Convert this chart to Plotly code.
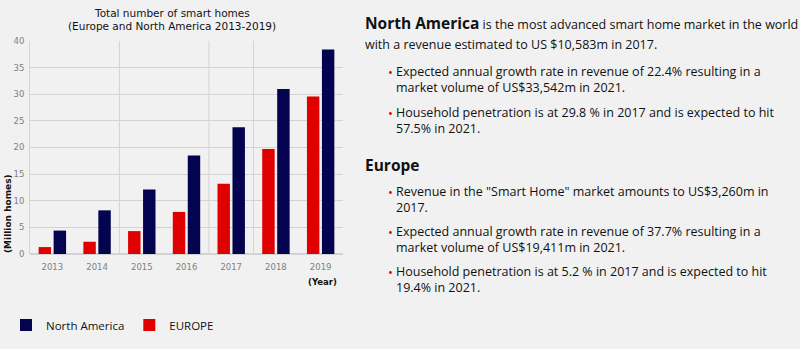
import plotly.graph_objects as go

years = ["2013", "2014", "2015", "2016", "2017", "2018", "2019"]
north_america = [4.4, 8.2, 12.1, 18.5, 23.8, 31.0, 38.4]
europe = [1.3, 2.3, 4.3, 7.9, 13.2, 19.7, 29.6]
y_ticks = [0, 5, 10, 15, 20, 25, 30, 35, 40]

NAVY = "#03034f"
RED = "#e00000"
BG = "#f1f1f1"
GRID = "#d3d3d3"
W, H = 800, 349

def px(x):
    return x / W

def py(y):
    return (H - y) / H

fig = go.Figure()
fig.add_trace(go.Bar(x=years, y=europe, name="EUROPE", marker=dict(color=RED, line=dict(width=0))))
fig.add_trace(go.Bar(x=years, y=north_america, name="North America", marker=dict(color=NAVY, line=dict(width=0))))

FONT = "Open Sans"
TICKFONT = dict(size=8.5, color="#808080", family="DejaVu Sans")

fig.update_layout(
    width=W, height=H,
    margin=dict(l=0, r=0, t=0, b=0, autoexpand=False),
    paper_bgcolor=BG, plot_bgcolor=BG,
    barmode="group", bargap=0.33, bargroupgap=0.17,
    font=dict(family=FONT, size=12, color="#111"),
    xaxis=dict(domain=[px(30), px(343)], type="category", showgrid=False,
               tickfont=TICKFONT, ticks="", ticklabelstandoff=6,
               showline=False, automargin=False),
    yaxis=dict(domain=[py(254), py(41)], range=[0, 40], tickvals=y_ticks,
               gridcolor=GRID, gridwidth=1, zeroline=True, zerolinecolor=GRID,
               showline=True, linecolor=GRID, ticks="", ticklabelstandoff=3,
               tickfont=TICKFONT, automargin=False),
    legend=dict(orientation="h", x=px(6), xanchor="left", y=py(325), yanchor="middle",
                traceorder="reversed", font=dict(size=11.5, color="#111", family=FONT),
                bgcolor="rgba(0,0,0,0)", itemwidth=30),
    showlegend=True,
)

for xv in [1.5, 3.5, 4.5]:
    fig.add_shape(type="line", xref="x", yref="y domain", x0=xv, x1=xv, y0=0, y1=1,
                  line=dict(color=GRID, width=1), layer="below")

def note(text, x, y, size, family="DejaVu Sans", xanchor="center", yanchor="middle", angle=0, color="#111"):
    fig.add_annotation(text=text, xref="paper", yref="paper", x=px(x), y=py(y),
                       xanchor=xanchor, yanchor=yanchor, align="left", showarrow=False,
                       textangle=angle, font=dict(size=size, color=color, family=family))

# chart title
note("Total number of smart homes", 172, 13, 10.5)
note("(Europe and North America 2013-2019)", 172, 26, 10.5)

# axis labels
note("<b>(Million homes)</b>", 8, 214, 9, angle=-90)
note("<b>(Year)</b>", 322, 282, 8.5)

# right-hand text
def txt(text, x, y, size=12.5):
    note(text, x, y, size, family=FONT, xanchor="left")

def bullet(y):
    note("•", 386, y, 13, family=FONT, xanchor="left", color=RED)

txt("<b><span style='font-size:15.5px'>North America</span></b> is the most advanced smart home market in the world", 363, 23, 12.5)
txt("with a revenue estimated to US $10,583m in 2017.", 363, 45, 12.5)

bullet(72)
txt("Expected annual growth rate in revenue of 22.4% resulting in a<br>market volume of US$33,542m in 2021.", 394, 79.5)
bullet(113)
txt("Household penetration is at 29.8 % in 2017 and is expected to hit<br>57.5% in 2021.", 394, 120.5)

txt("<b>Europe</b>", 363, 165, 15.5)
bullet(192)
txt("Revenue in the \"Smart Home\" market amounts to US$3,260m in<br>2017.", 394, 199.5)
bullet(232)
txt("Expected annual growth rate in revenue of 37.7% resulting in a<br>market volume of US$19,411m in 2021.", 394, 239.5)
bullet(272)
txt("Household penetration is at 5.2 % in 2017 and is expected to hit<br>19.4% in 2021.", 394, 279.5)

fig.write_html("out.html")
